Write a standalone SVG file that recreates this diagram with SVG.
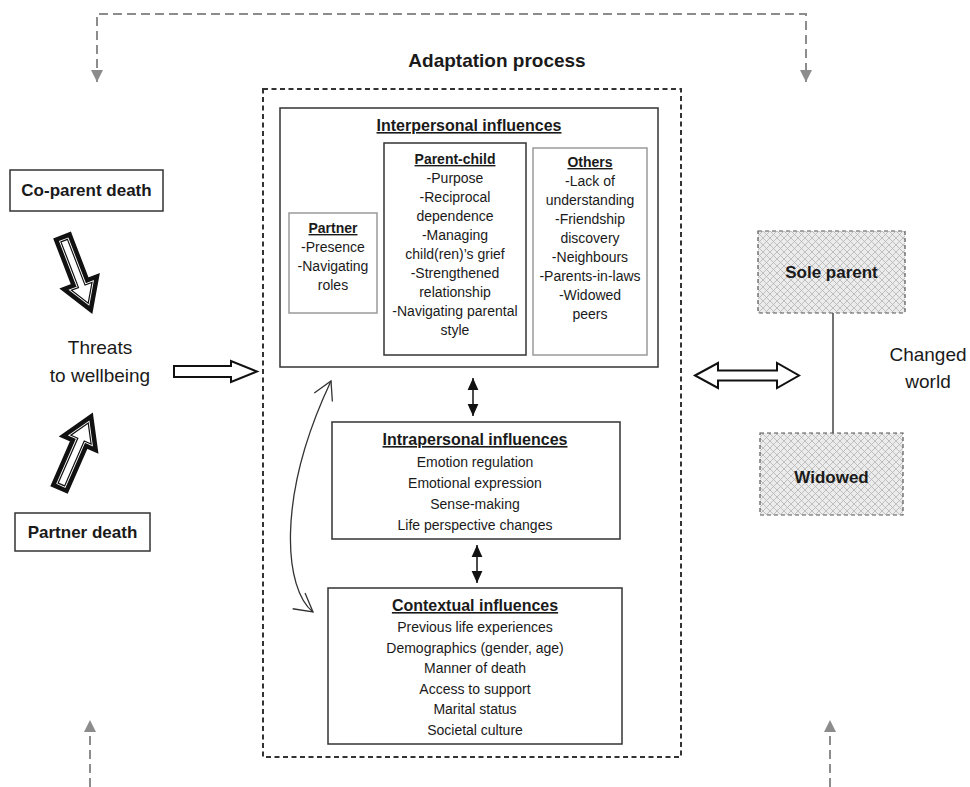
<svg xmlns="http://www.w3.org/2000/svg" xmlns:xlink="http://www.w3.org/1999/xlink" width="970" height="787" viewBox="0 0 970 787">
<style>
text{font-family:"Liberation Sans",Arial,sans-serif;fill:#1a1a1a;text-anchor:middle}
.t{font-size:16px;font-weight:bold;text-decoration:underline}
.st{font-size:14px;font-weight:bold;text-decoration:underline}
.b{font-size:14px}
.big{font-size:17px;font-weight:bold}
.lg{font-size:19px}
.box{fill:#fff;stroke:#333;stroke-width:1.5}
.gbox{fill:#fff;stroke:#9a9a9a;stroke-width:1.5}
.hbox{fill:url(#hatch);stroke:#555;stroke-width:1.2;stroke-dasharray:4,3}
.gdash{fill:none;stroke:#8c8c8c;stroke-width:2;stroke-dasharray:9,5}
.hollow{fill:#fff;stroke:#111;stroke-width:2;stroke-linejoin:miter}
</style>
<defs>
<pattern id="hatch" width="7" height="7" patternUnits="userSpaceOnUse">
<rect width="7" height="7" fill="#ececec"/>
<path d="M0,0 L7,7 M7,0 L0,7" stroke="#b4b4b4" stroke-width="0.8"/>
</pattern>
<marker id="garr" markerUnits="userSpaceOnUse" markerWidth="12" markerHeight="12" refX="10" refY="5" orient="auto-start-reverse" viewBox="0 0 10 10">
<path d="M0,0 L10,5 L0,10 z" fill="#8c8c8c"/>
</marker>
<marker id="barr" markerUnits="userSpaceOnUse" markerWidth="12" markerHeight="12" refX="10" refY="5" orient="auto-start-reverse" viewBox="0 0 10 10">
<path d="M0,0.5 L10,5 L0,9.5 z" fill="#111"/>
</marker>
<marker id="varr" markerUnits="userSpaceOnUse" markerWidth="24" markerHeight="24" refX="20" refY="12" orient="auto-start-reverse" viewBox="0 0 24 24">
<path d="M2,2 L20,12 L2,22" fill="none" stroke="#333" stroke-width="1.3"/>
</marker>
<polygon id="thick" points="0,-3.5 49,-3.5 49,-11 67,0 49,11 49,3.5 0,3.5"/>
</defs>

<!-- connectors -->
<g id="connectors">
<path class="gdash" d="M97,82 L97,14 L806,14 L806,82" marker-start="url(#garr)" marker-end="url(#garr)"/>
<path class="gdash" d="M90,787 L90,720" marker-end="url(#garr)"/>
<path class="gdash" d="M830,787 L830,720" marker-end="url(#garr)"/>
<g id="arrow-coparent" transform="translate(64.2,240.6) rotate(69)">
<use xlink:href="#thick" fill="#111" stroke="#111" stroke-width="12" stroke-linejoin="miter"/>
<use xlink:href="#thick" fill="#fff" stroke="#fff" stroke-width="3" stroke-linejoin="miter"/>
<use xlink:href="#thick" fill="#fff" stroke="#111" stroke-width="1.2" stroke-linejoin="miter"/>
</g>
<g id="arrow-partner" transform="translate(61.4,484.5) rotate(-66.4)">
<use xlink:href="#thick" fill="#111" stroke="#111" stroke-width="12" stroke-linejoin="miter"/>
<use xlink:href="#thick" fill="#fff" stroke="#fff" stroke-width="3" stroke-linejoin="miter"/>
<use xlink:href="#thick" fill="#fff" stroke="#111" stroke-width="1.2" stroke-linejoin="miter"/>
</g>
<polygon class="hollow" points="174,366 231,366 231,361 257,371.5 231,382 231,377 174,377"/>
<polygon class="hollow" points="695,375.5 718,363 718,370.5 777,370.5 777,363 799,375.5 777,388 777,380.5 718,380.5 718,388"/>
<line x1="473" y1="378" x2="473" y2="416" stroke="#111" stroke-width="1.5" marker-start="url(#barr)" marker-end="url(#barr)"/>
<line x1="477" y1="545" x2="477" y2="583" stroke="#111" stroke-width="1.5" marker-start="url(#barr)" marker-end="url(#barr)"/>
<path d="M313,612 C285,590 275,500 331,381" fill="none" stroke="#333" stroke-width="1.3" marker-start="url(#varr)" marker-end="url(#varr)"/>
<line x1="833" y1="313" x2="833" y2="433" stroke="#444" stroke-width="1.5"/>
</g>

<g id="adaptation">
<rect x="263" y="89" width="418" height="668" fill="none" stroke="#333" stroke-width="2" stroke-dasharray="5,3.5"/>
<text x="497" y="67" style="font-size:19px;font-weight:bold">Adaptation process</text>
</g>

<g id="coparent-death">
<rect class="box" x="10" y="170" width="153" height="41"/>
<text class="big" x="86.5" y="196">Co-parent death</text>
</g>

<g id="partner-death">
<rect class="box" x="15" y="513" width="135" height="38"/>
<text class="big" x="82.5" y="538">Partner death</text>
</g>

<g id="threats">
<text class="lg" x="100" y="354">Threats</text>
<text class="lg" x="100" y="382">to wellbeing</text>
</g>

<g id="interpersonal">
<rect class="box" x="280" y="108" width="378" height="259"/>
<text class="t" x="469" y="131">Interpersonal influences</text>
</g>

<g id="partner">
<rect class="gbox" x="289" y="213" width="88" height="100"/>
<text class="st" x="333" y="233">Partner</text>
<text class="b" x="333" y="252">-Presence</text>
<text class="b" x="333" y="271">-Navigating</text>
<text class="b" x="333" y="290">roles</text>
</g>

<g id="parent-child">
<rect class="box" x="384" y="143" width="142" height="212"/>
<text class="st" x="455" y="164">Parent-child</text>
<text class="b" x="455" y="183">-Purpose</text>
<text class="b" x="455" y="202">-Reciprocal</text>
<text class="b" x="455" y="221">dependence</text>
<text class="b" x="455" y="240">-Managing</text>
<text class="b" x="455" y="259">child(ren)’s grief</text>
<text class="b" x="455" y="278">-Strengthened</text>
<text class="b" x="455" y="297">relationship</text>
<text class="b" x="455" y="316">-Navigating parental</text>
<text class="b" x="455" y="335">style</text>
</g>

<g id="others">
<rect class="gbox" x="533" y="148" width="114" height="207"/>
<text class="st" x="590" y="167">Others</text>
<text class="b" x="590" y="186">-Lack of</text>
<text class="b" x="590" y="205">understanding</text>
<text class="b" x="590" y="224">-Friendship</text>
<text class="b" x="590" y="243">discovery</text>
<text class="b" x="590" y="262">-Neighbours</text>
<text class="b" x="590" y="281">-Parents-in-laws</text>
<text class="b" x="590" y="300">-Widowed</text>
<text class="b" x="590" y="319">peers</text>
</g>

<g id="intrapersonal">
<rect class="box" x="332" y="422" width="288" height="117"/>
<text class="t" x="475" y="445">Intrapersonal influences</text>
<text class="b" x="475" y="467">Emotion regulation</text>
<text class="b" x="475" y="488">Emotional expression</text>
<text class="b" x="475" y="509">Sense-making</text>
<text class="b" x="475" y="530">Life perspective changes</text>
</g>

<g id="contextual">
<rect class="box" x="328" y="588" width="294" height="156"/>
<text class="t" x="475" y="611">Contextual influences</text>
<text class="b" x="475" y="632">Previous life experiences</text>
<text class="b" x="475" y="653">Demographics (gender, age)</text>
<text class="b" x="475" y="673">Manner of death</text>
<text class="b" x="475" y="694">Access to support</text>
<text class="b" x="475" y="714">Marital status</text>
<text class="b" x="475" y="735">Societal culture</text>
</g>

<g id="sole-parent">
<rect class="hbox" x="758" y="231" width="147" height="82"/>
<text class="big" x="831.5" y="278">Sole parent</text>
</g>

<g id="widowed">
<rect class="hbox" x="760" y="433" width="143" height="82"/>
<text class="big" x="831.5" y="483">Widowed</text>
</g>

<g id="changed-world">
<text class="lg" x="928" y="361">Changed</text>
<text class="lg" x="928" y="388">world</text>
</g>
</svg>
